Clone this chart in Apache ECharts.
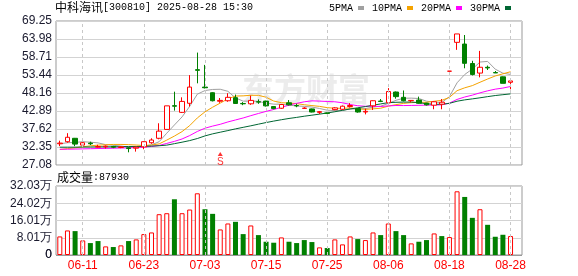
<!DOCTYPE html>
<html>
<head>
<meta charset="utf-8">
<script src="https://cdn.jsdelivr.net/npm/echarts@6/dist/echarts.min.js"></script>
<style>
  html, body { margin: 0; padding: 0; background: #fff; }
  #chart { width: 578px; height: 276px; }
</style>
</head>
<body>
<div id="chart"></div>
<script>
const stockName = '中科海讯'
const stockInfo = '[300810] 2025-08-28 15:30'

const dates = [
  '06-06', '06-09', '06-10', '06-11', '06-12', '06-13', '06-16', '06-17', '06-18', '06-19',
  '06-20', '06-23', '06-24', '06-25', '06-26', '06-27', '06-30', '07-01', '07-02', '07-03',
  '07-04', '07-07', '07-08', '07-09', '07-10', '07-11', '07-14', '07-15', '07-16', '07-17',
  '07-18', '07-21', '07-22', '07-23', '07-24', '07-25', '07-28', '07-29', '07-30', '07-31',
  '08-01', '08-04', '08-05', '08-06', '08-07', '08-08', '08-11', '08-12', '08-13', '08-14',
  '08-15', '08-18', '08-19', '08-20', '08-21', '08-22', '08-25', '08-26', '08-27', '08-28'
]
const opens = [
  33.3, 33.9, 34.9, 32.9, 33.5, 32.3, 32.4, 32.5, 32.2, 32.1,
  32.0, 32.4, 33.6, 34.9, 37.5, 44.45, 42.5, 45.15, 55.0, 49.9,
  48.25, 45.75, 45.9, 46.8, 45.1, 45.0, 45.6, 45.8, 44.2, 43.7,
  45.3, 44.5, 43.65, 43.5, 42.5, 42.3, 43.3, 43.4, 44.2, 43.6,
  42.6, 44.4, 45.8, 45.3, 48.45, 46.9, 45.9, 46.1, 45.2, 44.6,
  44.9, 54.55, 63.0, 62.5, 56.8, 54.0, 55.7, 54.15, 52.9, 51.3
]
const closes = [
  33.5, 35.2, 33.2, 33.6, 33.3, 32.5, 32.6, 32.3, 32.4, 31.9,
  32.3, 33.9, 34.4, 37.0, 44.4, 44.3, 45.7, 49.9, 54.8, 49.7,
  45.9, 46.0, 46.9, 45.1, 45.0, 46.0, 45.5, 44.4, 43.6, 44.8,
  44.7, 44.4, 43.75, 42.6, 42.7, 42.2, 43.8, 44.3, 44.5, 42.6,
  42.8, 45.9, 45.7, 48.6, 47.1, 45.9, 46.0, 45.15, 44.7, 45.6,
  45.46, 54.55, 65.46, 56.85, 53.6, 55.7, 55.5, 54.05, 51.0, 51.7
]
const lows = [
  32.6, 33.6, 32.6, 32.6, 32.9, 32.2, 31.9, 32.0, 32.0, 30.8,
  31.0, 31.7, 33.3, 34.6, 37.5, 43.0, 42.3, 44.2, 51.0, 49.5,
  45.7, 45.3, 45.6, 45.0, 44.6, 44.7, 45.0, 44.2, 43.4, 43.5,
  44.5, 44.0, 43.5, 42.5, 42.0, 42.0, 43.1, 43.2, 43.9, 42.4,
  41.9, 43.2, 45.5, 45.2, 46.5, 45.7, 45.5, 45.0, 44.5, 43.4,
  43.4, 54.55, 60.8, 55.4, 53.3, 52.75, 54.9, 54.0, 51.0, 49.25
]
const highs = [
  34.2, 36.4, 35.0, 33.8, 33.9, 33.0, 32.8, 32.7, 32.6, 32.3,
  32.5, 34.0, 34.9, 39.3, 44.4, 48.55, 46.9, 53.4, 60.0, 56.4,
  48.4, 46.7, 48.1, 47.7, 45.5, 47.4, 46.3, 45.9, 44.3, 44.9,
  46.1, 45.0, 44.0, 43.6, 42.9, 42.4, 44.0, 44.5, 45.2, 43.7,
  43.6, 46.0, 46.4, 49.6, 48.6, 48.9, 46.1, 47.1, 45.3, 45.7,
  46.4, 54.55, 65.46, 65.15, 57.6, 60.5, 56.2, 54.6, 53.0, 51.75
]
const volumes = [
  86200, 114000, 110900, 67800, 55400, 64700, 40000, 37000, 44700, 64700,
  72400, 97000, 104700, 189400, 194000, 258700, 194000, 211000, 286400, 212500,
  191000, 118600, 146300, 154000, 97000, 137100, 92400, 61600, 57000, 81600,
  61600, 55400, 69300, 60100, 35400, 32300, 72400, 49300, 86200, 73900,
  69300, 104700, 92400, 146300, 110900, 92400, 53900, 61600, 69300, 100100,
  87800, 83200, 295700, 269500, 172500, 212500, 140100, 84700, 93900, 87930
]
const ma5 = [
  33.3, 33.6, 33.7, 33.9, 33.76, 33.56, 33.04, 32.86, 32.62, 32.34,
  32.30, 32.56, 32.98, 33.90, 36.40, 38.80, 41.16, 44.26, 47.82, 48.88,
  49.20, 49.26, 48.66, 46.72, 45.78, 45.80, 45.70, 45.20, 44.90, 44.86,
  44.60, 44.38, 44.25, 44.05, 43.63, 43.13, 43.01, 43.12, 43.50, 43.48,
  43.60, 44.02, 44.30, 45.12, 46.02, 46.64, 46.66, 46.55, 45.77, 45.47,
  45.38, 47.09, 51.15, 53.58, 55.18, 57.23, 57.42, 55.14, 53.97, 53.59
]
const ma10 = [
  31.6, 31.9, 32.1, 32.4, 32.7, 32.9, 33.0, 33.1, 33.1, 33.05,
  32.93, 32.80, 32.92, 33.26, 34.37, 35.55, 36.86, 38.62, 40.86, 42.64,
  44.00, 45.21, 46.46, 47.27, 47.33, 47.50, 47.48, 46.93, 45.81, 45.32,
  45.20, 45.04, 44.73, 44.48, 44.25, 43.87, 43.70, 43.69, 43.78, 43.56,
  43.37, 43.52, 43.71, 44.31, 44.75, 45.12, 45.34, 45.43, 45.45, 45.75,
  46.01, 46.88, 48.85, 49.68, 50.33, 51.31, 52.26, 53.15, 53.78, 54.39
]
const ma20 = [
  31.7, 31.7, 31.75, 31.8, 31.85, 31.9, 31.95, 32.0, 32.05, 32.1,
  32.15, 32.3, 32.5, 32.8, 33.4, 34.0, 34.7, 35.7, 36.9, 37.85,
  38.47, 39.0, 39.69, 40.27, 40.85, 41.53, 42.17, 42.78, 43.34, 43.98,
  44.6, 45.13, 45.59, 45.87, 45.79, 45.68, 45.59, 45.31, 44.79, 44.44,
  44.28, 44.28, 44.22, 44.39, 44.5, 44.49, 44.52, 44.56, 44.61, 44.65,
  44.69, 45.2, 46.28, 46.99, 47.54, 48.21, 48.8, 49.29, 49.61, 50.07
]
const ma30 = [
  32.3, 32.3, 32.3, 32.35, 32.35, 32.4, 32.4, 32.4, 32.45, 32.5,
  32.5, 32.54, 32.62, 32.72, 32.9, 33.33, 33.76, 34.23, 34.83, 35.6,
  36.2, 36.68, 37.16, 37.66, 38.11, 38.56, 39.04, 39.51, 39.94, 40.34,
  40.71, 41.02, 41.37, 41.67, 41.98, 42.31, 42.68, 43.08, 43.48, 43.84,
  44.19, 44.59, 44.97, 45.35, 45.44, 45.5, 45.51, 45.35, 45.01, 44.87,
  44.86, 45.14, 45.76, 46.15, 46.44, 46.76, 47.1, 47.42, 47.67, 47.9
]
const priceTicks = ['27.08', '32.35', '37.62', '42.89', '48.16', '53.44', '58.71', '63.98', '69.25']
const volTicks = ['0', '8.01万', '16.01万', '24.02万', '32.03万']
const volMax = 320300
const labelDates = ['06-11', '06-23', '07-03', '07-15', '07-25', '08-06', '08-18', '08-28']
const signalDates = ['07-07']
const signalPrices = [30.3]

const UP = '#ff0000'
const DOWN = '#008000'
const GRID_LINE = '#d3d3d3'
const FRAME = '#999'
const LABEL_COLOR = '#1a1a2e'

const chart = echarts.init(document.getElementById('chart'))

// one empty slot after the last day, like the original
const xData = dates.concat([''])
const candles = dates.map((d, i) => [opens[i], closes[i], lows[i], highs[i]])
const volData = volumes.map((v, i) => {
  const prev = i > 0 ? closes[i - 1] : opens[i]
  const up = closes[i] > prev
  return {
    value: v,
    itemStyle: up
      ? { color: '#fff', borderColor: UP, borderWidth: 1 }
      : { color: DOWN, borderColor: DOWN, borderWidth: 0 }
  }
})
const dashData = labelDates.map(d => ({ xAxis: d }))
const markLineBase = {
  silent: true,
  symbol: ['none', 'none'],
  label: { show: false },
  lineStyle: { color: '#c8c8c8', type: [3, 3], width: 1 }
}
const priceMarks = Object.assign({}, markLineBase, { data: dashData })
// the volume panel also carries the zero label at its base line
const volMarks = Object.assign({}, markLineBase, {
  data: dashData.concat([{
    yAxis: 0,
    lineStyle: { color: FRAME, type: 'solid', width: 1 },
    label: {
      show: true,
      position: 'start',
      distance: 4,
      formatter: volTicks[0],
      color: LABEL_COLOR,
      fontFamily: 'Liberation Sans',
      fontSize: 12
    }
  }])
})
const maLine = (name, data, color) => ({
  name: name,
  type: 'line',
  xAxisIndex: 0,
  yAxisIndex: 0,
  data: data,
  symbol: 'none',
  lineStyle: { color: color, width: 1 },
  itemStyle: { color: color },
  z: 3
})
const richText = {
  a: { fontFamily: 'Noto Sans CJK SC', fontSize: 12, fontWeight: 'normal', color: '#000' },
  b: { fontFamily: 'Liberation Mono', fontSize: 10, fontWeight: 'normal', color: '#000' }
}
// label-only axis: ticks 0..n-1 mapped onto a tick label list
const labelAxis = (gridIndex, ticks) => ({
  type: 'value',
  gridIndex: gridIndex,
  position: 'left',
  min: 0,
  max: ticks.length - 1,
  interval: 1,
  axisLine: { show: false, onZero: false },
  axisTick: { show: false },
  axisLabel: {
    formatter: v => ticks[Math.round(v)],
    color: LABEL_COLOR,
    fontFamily: 'Liberation Sans',
    fontSize: 12,
    lineHeight: 12,
    margin: 4,
    showMinLabel: true,
    showMaxLabel: true,
    hideOverlap: false
  },
  splitLine: { lineStyle: { color: GRID_LINE } }
})
const dateAxis = (gridIndex, extra) => Object.assign({
  type: 'category',
  gridIndex: gridIndex,
  data: xData,
  boundaryGap: true,
  axisLine: { show: false, onZero: false },
  axisTick: { show: false },
  axisLabel: { show: false },
  splitLine: { show: false }
}, extra)

const options = {
  animation: false,
  backgroundColor: '#fff',
  title: [{
    text: '{a|' + stockName + '}{b|' + stockInfo + '}',
    left: 55,
    top: 1,
    padding: 0,
    textStyle: { fontWeight: 'normal', rich: richText }
  }, {
    text: '{a|成交量}{b|:' + volumes[volumes.length - 1] + '}',
    left: 57,
    top: 171,
    padding: 0,
    textStyle: { fontWeight: 'normal', rich: richText }
  }],
  legend: {
    right: 67,
    top: 3,
    padding: 0,
    align: 'right',
    icon: 'rect',
    itemWidth: 6,
    itemHeight: 4,
    itemGap: 8,
    textStyle: { fontFamily: 'Liberation Mono', fontSize: 10, color: '#000', padding: [0, 0, 0, 0] },
    data: ['5PMA', '10PMA', '20PMA', '30PMA']
  },
  graphic: [{
    type: 'text',
    left: 242,
    top: 73,
    z: 0,
    silent: true,
    style: {
      text: '东方财富',
      font: 'bold 32px "Noto Sans CJK SC"',
      fill: '#ececec'
    }
  }],
  grid: [{
    left: 56, right: 56, top: 21, height: 144,
    show: true, borderColor: FRAME, borderWidth: 1
  }, {
    left: 56, right: 56, top: 186, height: 69,
    show: true, borderColor: FRAME, borderWidth: 1
  }, {
    // thin strip under the volume panel that only carries the date labels
    left: 56, right: 56, top: 254, height: 1
  }],
  xAxis: [
    dateAxis(0, {}),
    dateAxis(1, {}),
    dateAxis(2, {
      axisLabel: {
        interval: (idx, val) => labelDates.includes(val),
        color: UP,
        fontFamily: 'Liberation Sans',
        fontSize: 12,
        margin: 5
      }
    })
  ],
  yAxis: [{
    // price scale used by the marks
    type: 'value',
    gridIndex: 0,
    min: +priceTicks[0],
    max: +priceTicks[priceTicks.length - 1],
    show: false,
    splitLine: { show: false }
  },
  labelAxis(0, priceTicks),
  {
    // volume scale used by the bars
    type: 'value',
    gridIndex: 1,
    min: 0,
    max: volMax,
    show: false,
    splitLine: { show: false }
  },
  labelAxis(1, volTicks),
  { type: 'value', gridIndex: 2, show: false }],
  series: [{
    name: 'K',
    type: 'candlestick',
    xAxisIndex: 0,
    yAxisIndex: 0,
    data: candles,
    barWidth: 5,
    itemStyle: {
      color: '#fff',
      color0: DOWN,
      borderColor: UP,
      borderColor0: DOWN,
      borderColorDoji: UP,
      borderWidth: 1
    },
    markLine: priceMarks,
    z: 4
  },
  maLine('5PMA', ma5, '#a0a0a0'),
  maLine('10PMA', ma10, '#f5a300'),
  maLine('20PMA', ma20, '#ff00ff'),
  maLine('30PMA', ma30, '#006633'),
  {
    name: 'signal',
    type: 'scatter',
    xAxisIndex: 0,
    yAxisIndex: 0,
    data: signalDates.map((d, k) => [d, signalPrices[k]]),
    symbol: 'triangle',
    symbolSize: [5, 4],
    itemStyle: { color: UP },
    label: {
      show: true,
      formatter: 'S',
      position: 'bottom',
      distance: 1,
      color: UP,
      fontFamily: 'Liberation Sans',
      fontSize: 10
    },
    z: 5
  }, {
    name: 'vol',
    type: 'bar',
    xAxisIndex: 1,
    yAxisIndex: 2,
    data: volData,
    barWidth: 5,
    markLine: volMarks
  }]
}
chart.setOption(options)
</script>
</body>
</html>
